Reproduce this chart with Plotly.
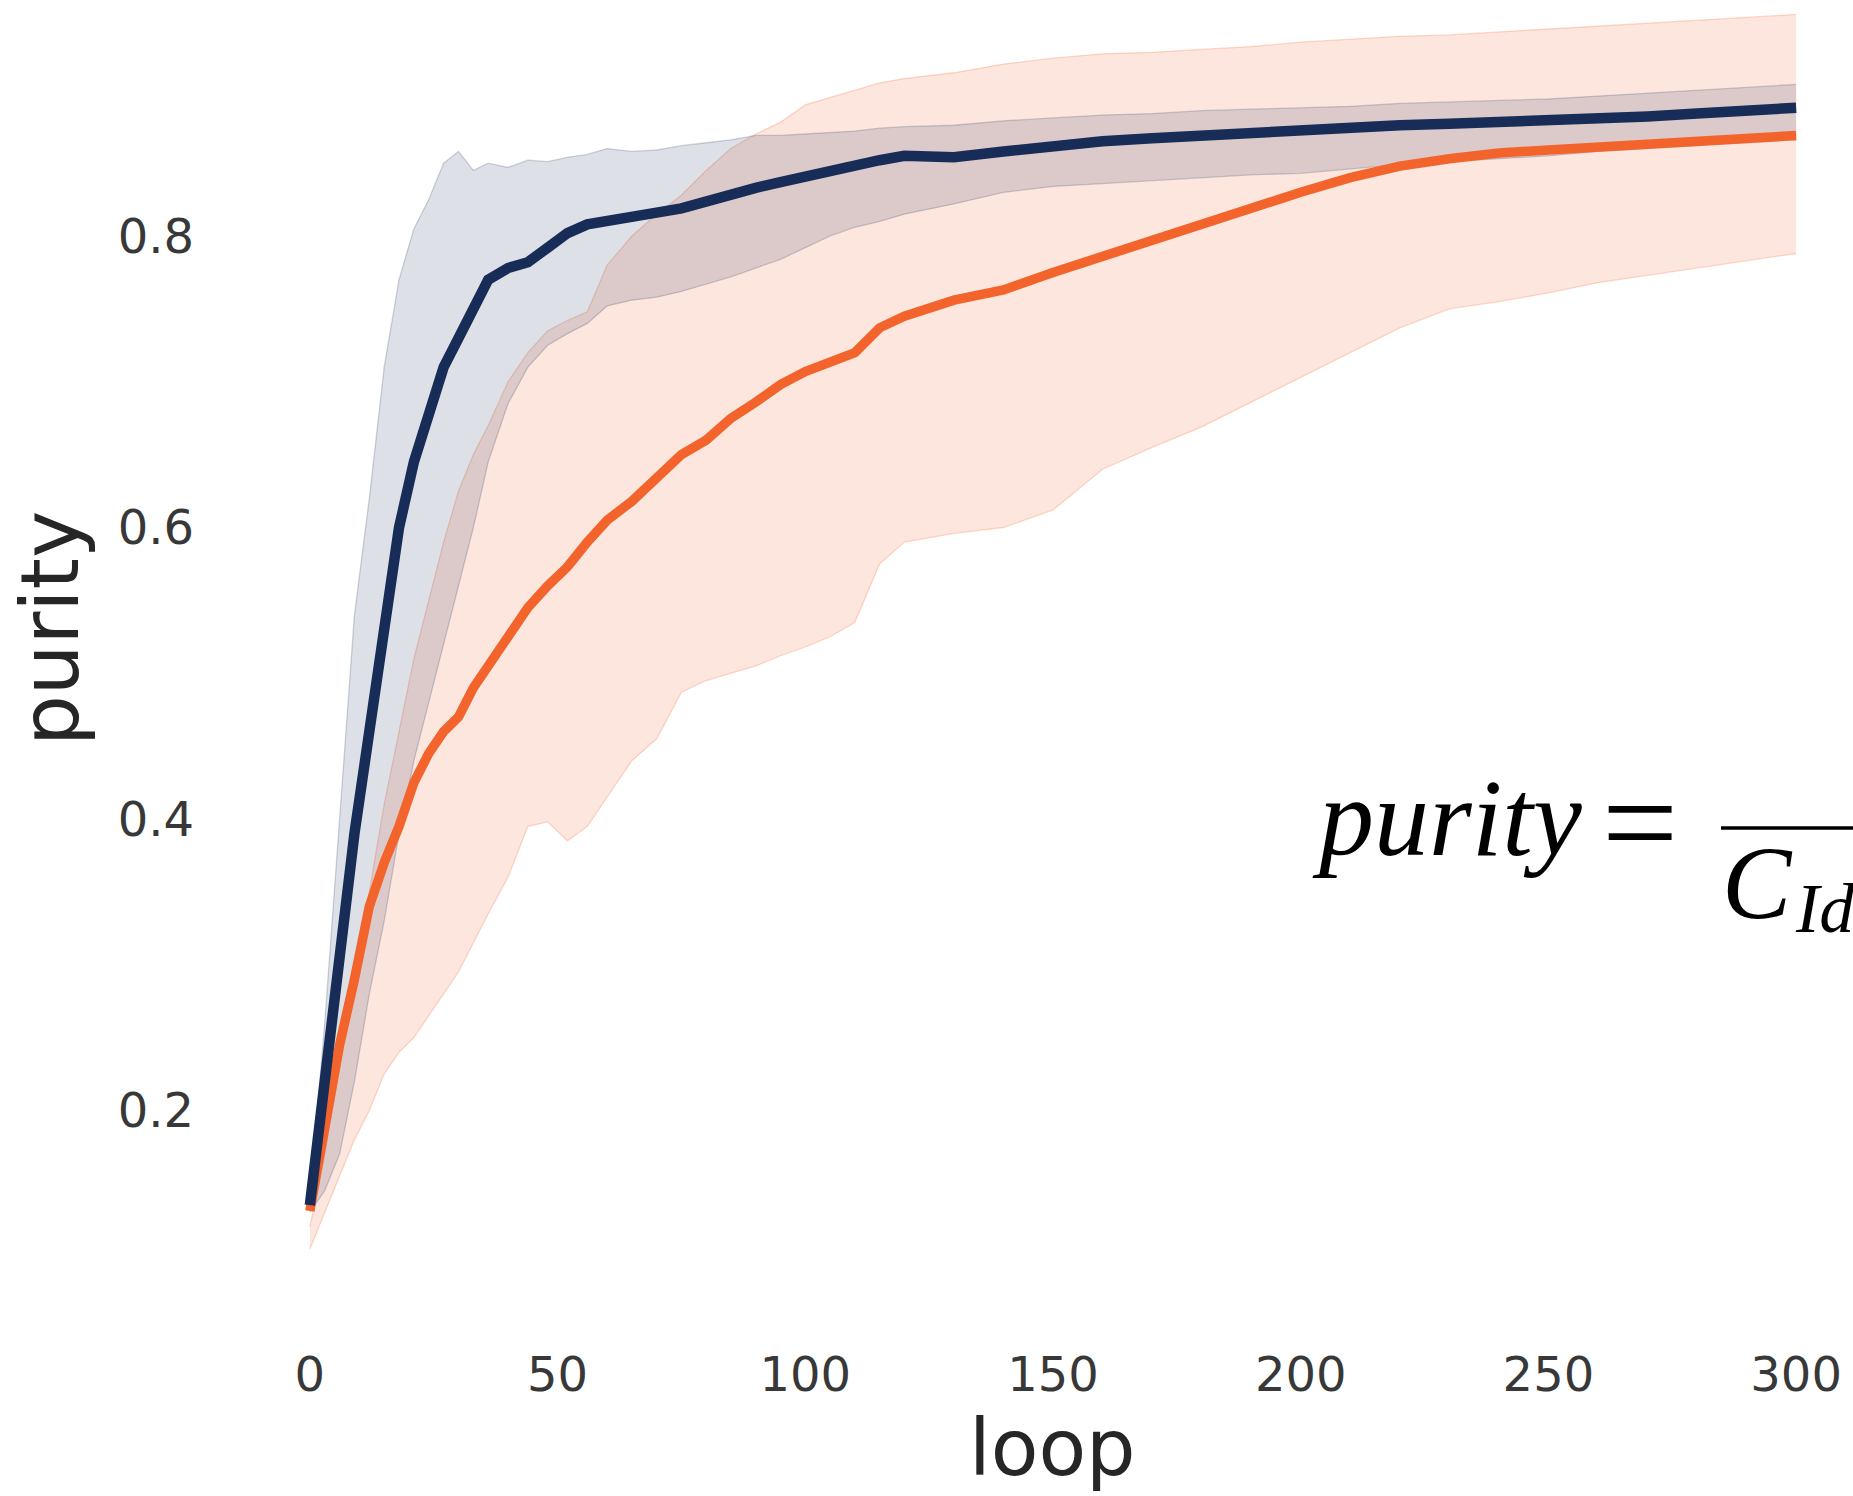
import plotly.graph_objects as go

# ---------------- data ----------------
loops = [0, 3, 6, 9, 12, 15, 18, 21, 24, 27, 30, 33, 36, 40, 44, 48, 52, 56, 60,
         65, 70, 75, 80, 85, 90, 95, 100, 105, 110, 115, 120, 130, 140, 150, 160,
         170, 180, 190, 200, 210, 220, 230, 240, 250, 260, 270, 280, 290, 300]

navy_mean = [0.135, 0.22, 0.31, 0.39, 0.46, 0.53, 0.60, 0.645, 0.68, 0.71, 0.73, 0.75,
             0.77, 0.778, 0.782, 0.792, 0.802, 0.808, 0.81, 0.812, 0.816, 0.819, 0.824,
             0.828, 0.833, 0.837, 0.841, 0.845, 0.849, 0.852, 0.855, 0.854, 0.858, 0.862,
             0.865, 0.867, 0.869, 0.871, 0.873, 0.874, 0.876, 0.877, 0.878, 0.879, 0.880,
             0.882, 0.884, 0.886, 0.888]
navy_upper = [0.14, 0.26, 0.40, 0.54, 0.62, 0.71, 0.77, 0.805, 0.825, 0.85, 0.858, 0.845,
              0.85, 0.847, 0.852, 0.851, 0.854, 0.856, 0.86, 0.858, 0.859, 0.862, 0.864,
              0.866, 0.869, 0.869, 0.87, 0.871, 0.872, 0.874, 0.875, 0.876, 0.879, 0.881,
              0.883, 0.884, 0.886, 0.887, 0.888, 0.889, 0.891, 0.892, 0.893, 0.894, 0.896,
              0.898, 0.900, 0.902, 0.904]
navy_lower = [0.13, 0.145, 0.17, 0.22, 0.28, 0.33, 0.39, 0.44, 0.48, 0.52, 0.56, 0.60,
              0.645, 0.685, 0.71, 0.725, 0.733, 0.740, 0.752, 0.756, 0.758, 0.762, 0.767,
              0.772, 0.778, 0.784, 0.792, 0.80, 0.806, 0.81, 0.815, 0.822, 0.83, 0.834,
              0.836, 0.838, 0.84, 0.842, 0.843, 0.846, 0.849, 0.851, 0.853, 0.855, 0.858,
              0.860, 0.862, 0.864, 0.866]

orange_mean = [0.131, 0.19, 0.245, 0.29, 0.34, 0.37, 0.395, 0.425, 0.445, 0.46, 0.47,
               0.49, 0.505, 0.525, 0.545, 0.56, 0.573, 0.59, 0.605, 0.618, 0.635, 0.65,
               0.66, 0.675, 0.686, 0.698, 0.707, 0.713, 0.72, 0.737, 0.745, 0.756, 0.763,
               0.775, 0.786, 0.797, 0.808, 0.82, 0.83, 0.84, 0.848, 0.853, 0.857, 0.859,
               0.861, 0.863, 0.866, 0.868, 0.869]
orange_upper = [0.12, 0.17, 0.23, 0.29, 0.35, 0.41, 0.46, 0.51, 0.55, 0.59, 0.625, 0.65,
                0.67, 0.70, 0.72, 0.735, 0.742, 0.748, 0.78, 0.80, 0.815, 0.828, 0.845,
                0.86, 0.87, 0.878, 0.89, 0.895, 0.90, 0.905, 0.908, 0.912, 0.918, 0.922,
                0.925, 0.926, 0.928, 0.93, 0.933, 0.935, 0.937, 0.938, 0.94, 0.942, 0.944,
                0.946, 0.948, 0.95, 0.952]
orange_lower = [0.105, 0.13, 0.155, 0.18, 0.20, 0.225, 0.24, 0.25, 0.265, 0.28, 0.295,
                0.315, 0.335, 0.36, 0.395, 0.398, 0.385, 0.395, 0.415, 0.44, 0.455, 0.487,
                0.495, 0.50, 0.505, 0.512, 0.518, 0.525, 0.535, 0.575, 0.59, 0.596, 0.60,
                0.612, 0.64, 0.655, 0.669, 0.686, 0.703, 0.72, 0.737, 0.75, 0.755, 0.761,
                0.768, 0.773, 0.778, 0.783, 0.788]

x_ticks = [0, 50, 100, 150, 200, 250, 300]
y_ticks = [0.2, 0.4, 0.6, 0.8]

# ---------------- styling ----------------
NAVY = "#182c58"
ORANGE = "#f3642c"
W, H = 1853, 1496
L, R, T, B = 295, 1811, 5, 1340   # plot area in pixels


def px_x(px):
    return (px - L) / (R - L)


def px_y(py):
    return (B - py) / (B - T)


fig = go.Figure()

# orange band
fig.add_trace(go.Scatter(x=loops, y=orange_lower, mode="lines",
                         line=dict(color="rgba(243,100,44,0.24)", width=1.3),
                         showlegend=False, hoverinfo="skip"))
fig.add_trace(go.Scatter(x=loops, y=orange_upper, mode="lines", fill="tonexty",
                         fillcolor="rgba(243,100,44,0.16)",
                         line=dict(color="rgba(243,100,44,0.24)", width=1.3),
                         showlegend=False, hoverinfo="skip"))
# navy band
fig.add_trace(go.Scatter(x=loops, y=navy_lower, mode="lines",
                         line=dict(color="rgba(24,44,88,0.2)", width=1.3),
                         showlegend=False, hoverinfo="skip"))
fig.add_trace(go.Scatter(x=loops, y=navy_upper, mode="lines", fill="tonexty",
                         fillcolor="rgba(24,44,88,0.15)",
                         line=dict(color="rgba(24,44,88,0.2)", width=1.3),
                         showlegend=False, hoverinfo="skip"))
# mean lines
fig.add_trace(go.Scatter(x=loops, y=orange_mean, mode="lines",
                         line=dict(color=ORANGE, width=9.5), showlegend=False))
fig.add_trace(go.Scatter(x=loops, y=navy_mean, mode="lines",
                         line=dict(color=NAVY, width=10.5), showlegend=False))

TICK_FONT = dict(family="DejaVu Sans", size=48, color="#383838")

fig.update_xaxes(range=[-3, 303], tickvals=x_ticks, ticktext=[str(v) for v in x_ticks],
                 showgrid=False, zeroline=False, showline=False, ticks="",
                 tickfont=TICK_FONT, ticklabelstandoff=2)
fig.update_yaxes(range=[0.0425, 0.9585], tickvals=y_ticks,
                 ticktext=[f"{v:.1f}" for v in y_ticks],
                 showgrid=False, zeroline=False, showline=False, ticks="",
                 tickfont=TICK_FONT, ticklabelstandoff=100)

annos = [
    dict(text="purity", x=px_x(50), y=px_y(629), textangle=-90,
         font=dict(family="DejaVu Sans", size=80, color="#262626")),
    dict(text="loop", x=px_x(1052), y=px_y(1448),
         font=dict(family="DejaVu Sans", size=78, color="#262626")),
    dict(text="<i>purity</i>", x=px_x(1310), y=px_y(818), xanchor="left",
         font=dict(family="Liberation Serif", size=110, color="black")),
    dict(text="=", x=px_x(1640), y=px_y(822), xanchor="center",
         font=dict(family="Liberation Serif", size=135, color="black")),
    dict(text="<i>C</i>", x=px_x(1720), y=px_y(882), xanchor="left",
         font=dict(family="Liberation Serif", size=104, color="black")),
    dict(text="<i>Id</i>", x=px_x(1793), y=px_y(909), xanchor="left",
         font=dict(family="Liberation Serif", size=70, color="black")),
]
for a in annos:
    a.update(xref="paper", yref="paper", showarrow=False)
    a.setdefault("xanchor", "center")
    a.setdefault("yanchor", "middle")
fig.update_layout(annotations=annos)

fig.add_shape(type="line", xref="paper", yref="paper",
              x0=px_x(1721), x1=px_x(1870), y0=px_y(828), y1=px_y(828),
              line=dict(color="black", width=3.5))

fig.update_layout(width=W, height=H, plot_bgcolor="white", paper_bgcolor="white",
                  margin=dict(l=L, r=W - R, t=T, b=H - B), showlegend=False)

fig.write_html("out.html")
